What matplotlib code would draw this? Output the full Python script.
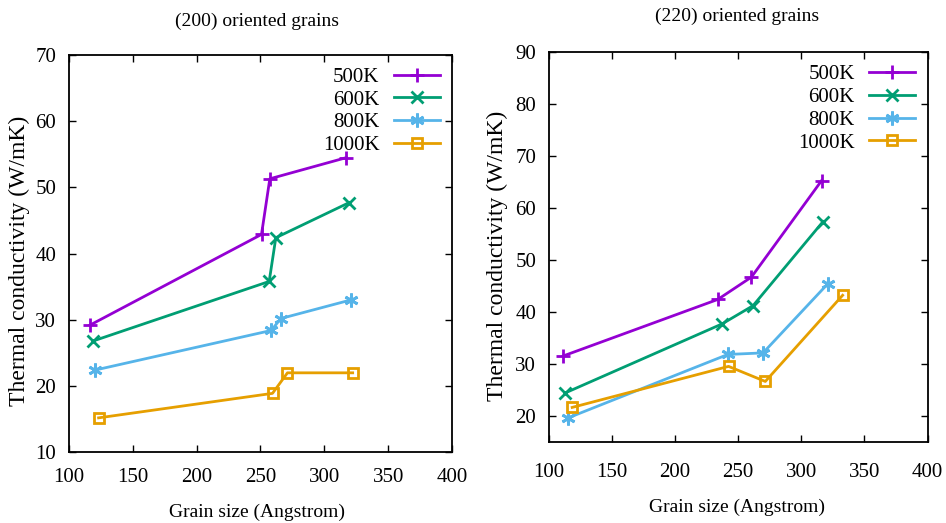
import matplotlib
matplotlib.use("Agg")
import matplotlib.pyplot as plt

plt.rcParams["font.family"] = ["Liberation Serif", "DejaVu Serif"]

# (200) oriented grains
x200_500 = [116.6, 250.8, 257.3, 317.2]
y200_500 = [29.2, 42.9, 51.3, 54.5]
x200_600 = [119.0, 256.8, 262.0, 319.3]
y200_600 = [26.8, 35.8, 42.4, 47.7]
x200_800 = [120.3, 258.4, 265.9, 320.5]
y200_800 = [22.4, 28.4, 30.2, 33.0]
x200_1000 = [123.4, 259.4, 271.1, 322.1]
y200_1000 = [15.2, 18.9, 22.0, 22.0]

# (220) oriented grains
x220_500 = [111.4, 233.9, 260.5, 316.1]
y220_500 = [31.5, 42.4, 46.7, 65.3]
x220_600 = [113.2, 237.4, 261.8, 317.2]
y220_600 = [24.4, 37.7, 41.2, 57.4]
x220_800 = [115.6, 241.8, 269.7, 320.9]
y220_800 = [19.6, 31.8, 32.1, 45.4]
x220_1000 = [118.6, 242.4, 271.5, 332.7]
y220_1000 = [21.6, 29.5, 26.6, 43.2]

labels = ["500K", "600K", "800K", "1000K"]
colors = ["#9400D3", "#009E73", "#56B4E9", "#E69F00"]
markers = ["+", "x", (6, 2, 0), "s"]
msizes = [10, 8, 10, 7]

yticks200 = [10, 20, 30, 40, 50, 60, 70]
yticks220 = [20, 30, 40, 50, 60, 70, 80, 90]
xticks = [100, 150, 200, 250, 300, 350, 400]

fig = plt.figure(figsize=(9.46, 5.23), dpi=100)
ax1 = fig.add_axes([0.0726, 0.1352, 0.4055, 0.7597])
ax2 = fig.add_axes([0.580, 0.1555, 0.4006, 0.7445])


def draw(ax, series, ylim, yticks, xpad):
    for (xs, ys), lab, c, m, ms in zip(series, labels, colors, markers, msizes):
        ax.plot(xs, ys, color=c, lw=2, marker=m, ms=ms, mew=2,
                mfc="none", label=lab)
    ax.set_xlim(100, 400)
    ax.set_ylim(*ylim)
    ax.set_xticks(xticks)
    ax.set_yticks(yticks)
    ax.tick_params(direction="in", top=True, right=True, length=5, width=1,
                   labelsize=15)
    ax.tick_params(axis="y", pad=9)
    ax.tick_params(axis="x", pad=xpad)
    for sp in ax.spines.values():
        sp.set_linewidth(1.3)
    ax.legend(loc="upper right", frameon=False, markerfirst=False,
              fontsize=15, handlelength=2.2, labelspacing=0.15,
              handletextpad=0.7, borderaxespad=0.2)


draw(ax1, [(x200_500, y200_500), (x200_600, y200_600),
           (x200_800, y200_800), (x200_1000, y200_1000)], (10, 70), yticks200, 11)
draw(ax2, [(x220_500, y220_500), (x220_600, y220_600),
           (x220_800, y220_800), (x220_1000, y220_1000)], (15, 90), yticks220, 15)

fig.text(0.2717, 0.960, "(200) oriented grains", ha="center", va="center", fontsize=14)
fig.text(0.779, 0.969, "(220) oriented grains", ha="center", va="center", fontsize=14)
fig.text(0.2717, 0.021, "Grain size (Angstrom)", ha="center", va="center", fontsize=14)
fig.text(0.779, 0.029, "Grain size (Angstrom)", ha="center", va="center", fontsize=14)
fig.text(0.020, 0.501, "Thermal conductivity (W/mK)", ha="center", va="center",
         rotation=90, fontsize=17)
fig.text(0.526, 0.510, "Thermal conductivity (W/mK)", ha="center", va="center",
         rotation=90, fontsize=17)

fig.savefig("out.png", dpi=100)
